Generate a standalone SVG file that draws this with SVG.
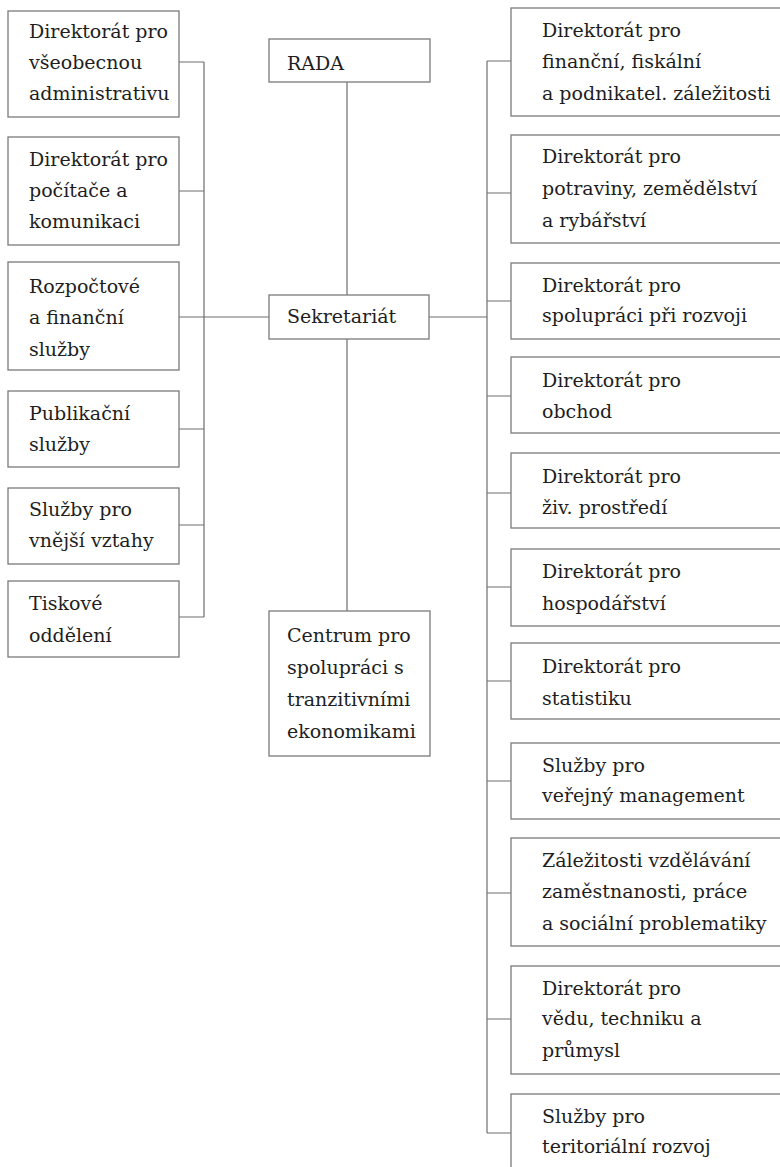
<svg xmlns="http://www.w3.org/2000/svg" width="780" height="1167" viewBox="0 0 780 1167">
<style>
.box{fill:#fff;stroke:#7a7a7a;stroke-width:1.3}
.ln{fill:none;stroke:#6e6e6e;stroke-width:1.2}
</style>
<rect width="780" height="1167" fill="#fff"/>
<g id="connectors">
<path class="ln" d="M179 62H204M179 191H204M179 317H204M179 429H204M179 525H204M179 617H204M204 62V617M204 317H269"/>
<path class="ln" d="M347 82V295M347 339V611"/>
<path class="ln" d="M429 317H487M487 61V1133M487 61H511M487 193H511M487 301H511M487 396H511M487 493H511M487 587H511M487 681H511M487 781H511M487 893H511M487 1019H511M487 1133H511"/>
</g>
<g id="L1"><rect class="box" x="8" y="11" width="171" height="106"/><text font-family="DejaVu Serif" font-size="19" fill="#1e1e1e" x="29" y="38">Direktorát pro</text><text font-family="DejaVu Serif" font-size="19" fill="#1e1e1e" x="29" y="69">všeobecnou</text><text font-family="DejaVu Serif" font-size="19" fill="#1e1e1e" x="29" y="100">administrativu</text></g>
<g id="L2"><rect class="box" x="8" y="137" width="171" height="108"/><text font-family="DejaVu Serif" font-size="19" fill="#1e1e1e" x="29" y="166">Direktorát pro</text><text font-family="DejaVu Serif" font-size="19" fill="#1e1e1e" x="29" y="197">počítače a</text><text font-family="DejaVu Serif" font-size="19" fill="#1e1e1e" x="29" y="228">komunikaci</text></g>
<g id="L3"><rect class="box" x="8" y="262" width="171" height="108"/><text font-family="DejaVu Serif" font-size="19" fill="#1e1e1e" x="29" y="293">Rozpočtové</text><text font-family="DejaVu Serif" font-size="19" fill="#1e1e1e" x="29" y="324">a finanční</text><text font-family="DejaVu Serif" font-size="19" fill="#1e1e1e" x="29" y="356">služby</text></g>
<g id="L4"><rect class="box" x="8" y="391" width="171" height="76"/><text font-family="DejaVu Serif" font-size="19" fill="#1e1e1e" x="29" y="420">Publikační</text><text font-family="DejaVu Serif" font-size="19" fill="#1e1e1e" x="29" y="451">služby</text></g>
<g id="L5"><rect class="box" x="8" y="488" width="171" height="76"/><text font-family="DejaVu Serif" font-size="19" fill="#1e1e1e" x="29" y="516">Služby pro</text><text font-family="DejaVu Serif" font-size="19" fill="#1e1e1e" x="29" y="547">vnější vztahy</text></g>
<g id="L6"><rect class="box" x="8" y="581" width="171" height="76"/><text font-family="DejaVu Serif" font-size="19" fill="#1e1e1e" x="29" y="610">Tiskové</text><text font-family="DejaVu Serif" font-size="19" fill="#1e1e1e" x="29" y="642">oddělení</text></g>
<g id="RADA"><rect class="box" x="269" y="39" width="161" height="43"/><text font-family="DejaVu Serif" font-size="19" fill="#1e1e1e" x="287" y="70">RADA</text></g>
<g id="Sekretariat"><rect class="box" x="269" y="295" width="160" height="44"/><text font-family="DejaVu Serif" font-size="19" fill="#1e1e1e" x="287" y="323">Sekretariát</text></g>
<g id="Centrum"><rect class="box" x="269" y="611" width="161" height="145"/><text font-family="DejaVu Serif" font-size="19" fill="#1e1e1e" x="287" y="642">Centrum pro</text><text font-family="DejaVu Serif" font-size="19" fill="#1e1e1e" x="287" y="674">spolupráci s</text><text font-family="DejaVu Serif" font-size="19" fill="#1e1e1e" x="287" y="706">tranzitivními</text><text font-family="DejaVu Serif" font-size="19" fill="#1e1e1e" x="287" y="738">ekonomikami</text></g>
<g id="R1"><rect class="box" x="511" y="8" width="300" height="108"/><text font-family="DejaVu Serif" font-size="19" fill="#1e1e1e" x="542" y="37">Direktorát pro</text><text font-family="DejaVu Serif" font-size="19" fill="#1e1e1e" x="542" y="68">finanční, fiskální</text><text font-family="DejaVu Serif" font-size="19" fill="#1e1e1e" x="542" y="100">a podnikatel. záležitosti</text></g>
<g id="R2"><rect class="box" x="511" y="135" width="300" height="108"/><text font-family="DejaVu Serif" font-size="19" fill="#1e1e1e" x="542" y="163">Direktorát pro</text><text font-family="DejaVu Serif" font-size="19" fill="#1e1e1e" x="542" y="195">potraviny, zemědělství</text><text font-family="DejaVu Serif" font-size="19" fill="#1e1e1e" x="542" y="227">a rybářství</text></g>
<g id="R3"><rect class="box" x="511" y="263" width="300" height="76"/><text font-family="DejaVu Serif" font-size="19" fill="#1e1e1e" x="542" y="292">Direktorát pro</text><text font-family="DejaVu Serif" font-size="19" fill="#1e1e1e" x="542" y="322">spolupráci při rozvoji</text></g>
<g id="R4"><rect class="box" x="511" y="357" width="300" height="76"/><text font-family="DejaVu Serif" font-size="19" fill="#1e1e1e" x="542" y="387">Direktorát pro</text><text font-family="DejaVu Serif" font-size="19" fill="#1e1e1e" x="542" y="418">obchod</text></g>
<g id="R5"><rect class="box" x="511" y="453" width="300" height="75"/><text font-family="DejaVu Serif" font-size="19" fill="#1e1e1e" x="542" y="483">Direktorát pro</text><text font-family="DejaVu Serif" font-size="19" fill="#1e1e1e" x="542" y="514">živ. prostředí</text></g>
<g id="R6"><rect class="box" x="511" y="549" width="300" height="77"/><text font-family="DejaVu Serif" font-size="19" fill="#1e1e1e" x="542" y="578">Direktorát pro</text><text font-family="DejaVu Serif" font-size="19" fill="#1e1e1e" x="542" y="610">hospodářství</text></g>
<g id="R7"><rect class="box" x="511" y="643" width="300" height="76"/><text font-family="DejaVu Serif" font-size="19" fill="#1e1e1e" x="542" y="673">Direktorát pro</text><text font-family="DejaVu Serif" font-size="19" fill="#1e1e1e" x="542" y="705">statistiku</text></g>
<g id="R8"><rect class="box" x="511" y="743" width="300" height="76"/><text font-family="DejaVu Serif" font-size="19" fill="#1e1e1e" x="542" y="772">Služby pro</text><text font-family="DejaVu Serif" font-size="19" fill="#1e1e1e" x="542" y="802">veřejný management</text></g>
<g id="R9"><rect class="box" x="511" y="838" width="300" height="108"/><text font-family="DejaVu Serif" font-size="19" fill="#1e1e1e" x="542" y="867">Záležitosti vzdělávání</text><text font-family="DejaVu Serif" font-size="19" fill="#1e1e1e" x="542" y="898">zaměstnanosti, práce</text><text font-family="DejaVu Serif" font-size="19" fill="#1e1e1e" x="542" y="930">a sociální problematiky</text></g>
<g id="R10"><rect class="box" x="511" y="966" width="300" height="108"/><text font-family="DejaVu Serif" font-size="19" fill="#1e1e1e" x="542" y="995">Direktorát pro</text><text font-family="DejaVu Serif" font-size="19" fill="#1e1e1e" x="542" y="1025">vědu, techniku a</text><text font-family="DejaVu Serif" font-size="19" fill="#1e1e1e" x="542" y="1057">průmysl</text></g>
<g id="R11"><rect class="box" x="511" y="1094" width="300" height="100"/><text font-family="DejaVu Serif" font-size="19" fill="#1e1e1e" x="542" y="1123">Služby pro</text><text font-family="DejaVu Serif" font-size="19" fill="#1e1e1e" x="542" y="1153">teritoriální rozvoj</text></g>
</svg>
